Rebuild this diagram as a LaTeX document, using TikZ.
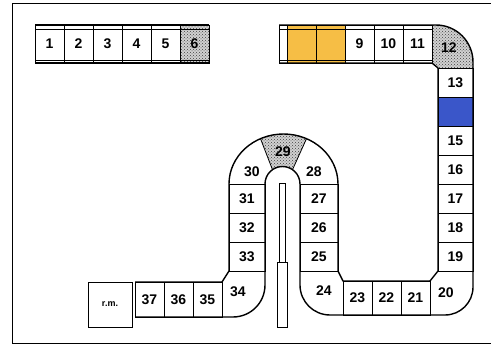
\documentclass[tikz,border=0pt]{standalone}
\usepackage{fontspec}
\setmainfont{Liberation Sans}
\usepackage{tikz}
\usetikzlibrary{positioning,patterns}
\definecolor{gold}{HTML}{F6BE45}
\definecolor{slot}{HTML}{3A56C9}

\begin{document}
\begin{tikzpicture}[x=1pt, y=-1pt,
  cell/.style={draw, line width=0.8pt, inner sep=0pt, outer sep=0pt, font=\fontsize{14}{14}\selectfont\bfseries},
  hcell/.style={cell, minimum width=29pt, minimum height=38pt},
  vcell/.style={cell, minimum width=35pt, minimum height=29pt},
  bcell/.style={cell, minimum width=29pt, minimum height=34pt},
  num/.style={inner sep=0pt, font=\fontsize{14}{14}\selectfont\bfseries},
  stipple/.style={preaction={fill=black!18}, pattern=crosshatch dots, pattern color=black!75},
  rail/.style={line width=1.4pt, line join=round},
  band/.style={line width=0.6pt}]
\useasboundingbox (0,0) rectangle (491,348);
\draw[line width=0.9pt] (491,3) -- (12,3) -- (12,343) -- (491,343);

\node[hcell] (c1) at (49.5,44) {1};
\node[hcell, right=0pt of c1] (c2) {2};
\node[hcell, right=0pt of c2] (c3) {3};
\node[hcell, right=0pt of c3] (c4) {4};
\node[hcell, right=0pt of c4] (c5) {5};
\node[hcell, stipple, right=0pt of c5] (c6) {6};
\draw[rail] (35,25) -- (209,25) (35,63) -- (209,63);
\draw[band] (35,29) -- (209,29) (35,60) -- (209,60);

\fill[stipple] (432,25) -- (436,25) arc[start angle=-90, end angle=0, radius=37] -- (473,68) -- (438,68) -- (432,63) -- cycle;
\fill[stipple] (260.5,138.7) arc[start angle=-115, end angle=-65, x radius=54.5, y radius=50] -- (292.5,169.7) arc[start angle=-55, end angle=-125, radius=17.5] -- cycle;
\draw[line width=0.8pt] (260.5,138.7) -- (272.5,169.7) (306.5,138.7) -- (292.5,169.7);

\node[hcell, fill=gold] (c7) at (301.5,44) {};
\node[hcell, minimum width=8pt, left=0pt of c7] (cap) {};
\node[hcell, fill=gold, right=0pt of c7] (c8) {};
\node[hcell, right=0pt of c8] (c9) {9};
\node[hcell, right=0pt of c9] (c10) {10};
\node[hcell, right=0pt of c10] (c11) {11};
\node[num] (c12) at (449,48) {12};
\node[vcell] (c13) at (455.5,82.5) {13};
\node[vcell, fill=slot, below=0pt of c13] (c14) {};
\node[vcell, below=0pt of c14] (c15) {15};
\node[vcell, below=0pt of c15] (c16) {16};
\node[vcell, below=0pt of c16] (c17) {17};
\node[vcell, below=0pt of c17] (c18) {18};
\node[vcell, below=0pt of c18] (c19) {19};
\node[num] (c20) at (446,293) {20};
\node[bcell] (c21) at (415.5,298) {21};
\node[bcell, left=0pt of c21] (c22) {22};
\node[bcell, left=0pt of c22] (c23) {23};
\node[num] (c24) at (324,291) {24};
\node[vcell, minimum width=38pt] (c25) at (319,256.5) {25};
\node[vcell, minimum width=38pt, above=0pt of c25] (c26) {26};
\node[vcell, minimum width=38pt, above=0pt of c26] (c27) {27};
\node[num] (c28) at (314,172) {28};
\node[num] (c29) at (283,152) {29};
\node[num] (c30) at (252,172) {30};
\node[vcell, minimum width=36pt] (c31) at (247,198.5) {31};
\node[vcell, minimum width=36pt, below=0pt of c31] (c32) {32};
\node[vcell, minimum width=36pt, below=0pt of c32] (c33) {33};
\node[num] (c34) at (238,292) {34};
\node[bcell, minimum height=35pt] (c35) at (207.5,299.5) {35};
\node[bcell, minimum height=35pt, left=0pt of c35] (c36) {36};
\node[bcell, minimum height=35pt, left=0pt of c36] (c37) {37};
\node[cell, minimum width=44pt, minimum height=45pt, font=\fontsize{9}{9}\selectfont\bfseries] (rm) at (110,304.5) {r.m.};

\draw[rail] (279,25) -- (436,25) arc[start angle=-90, end angle=0, radius=37] -- (473,287) arc[start angle=0, end angle=90, radius=28] -- (330,315) arc[start angle=90, end angle=180, radius=30] -- (300,184) arc[start angle=0, end angle=-180, radius=17.5] -- (265,285) arc[start angle=0, end angle=90, radius=32] -- (135,317);
\draw[rail] (279,63) -- (432,63) -- (438,68) -- (438,271) -- (430,281) -- (343,281) -- (338,271) -- (338,184) arc[start angle=0, end angle=-180, x radius=54.5, y radius=50] -- (229,271) -- (222,282) -- (135,282);
\draw[band] (279,29) -- (432,29) (279,60) -- (432,60);

\draw[line width=0.8pt] (279,183) rectangle (285,262);
\draw[line width=0.8pt] (277,262) rectangle (287,327);
\end{tikzpicture}
\end{document}
